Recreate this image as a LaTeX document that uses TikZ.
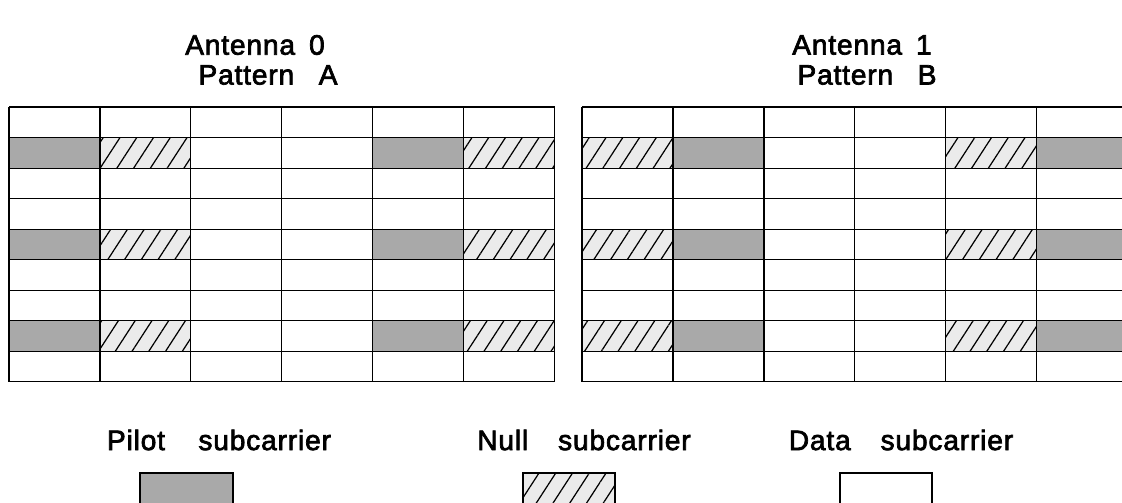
\documentclass[tikz,border=0pt]{standalone}
\usepackage{fontspec}
\setmainfont{Liberation Sans}
\newfontfamily\labelfont[FakeBold=2.5,LetterSpace=3]{Liberation Sans}
\usetikzlibrary{patterns.meta}
\definecolor{pilotgray}{RGB}{169,169,169}
\definecolor{nullgray}{RGB}{235,235,235}
\newcommand{\colw}{1.82}
\newcommand{\rowh}{0.611}

\begin{document}
\begin{tikzpicture}[x=0.02cm,y=-0.02cm,
		pilotcell/.style={fill=pilotgray},
		nullcell/.style={fill=nullgray,postaction={pattern={Lines[angle=57,distance=8pt,line width=0.7pt]}}},
		gridline/.style={draw=black,line width=0.6pt},
		title/.style={font=\labelfont\fontsize{16}{19}\selectfont},
	]
		\useasboundingbox (0,0) rectangle (1122,503);
		%titres
		\node[title] (ant0) at (255,45) {Antenna\hspace{8pt}0};
		\node[title] (pat0) at (268,75) {Pattern\hspace{14pt}A};
		\node[title] (ant1) at (862,45) {Antenna\hspace{8pt}1};
		\node[title] (pat1) at (867,75) {Pattern\hspace{14pt}B};
		%grille antenne 0
		\begin{scope}[shift={(9,107)},x=\colw cm,y=-\rowh cm]
			\foreach \r in {1,4,7} {
				\fill[pilotcell] (0,\r) rectangle (1,\r+1);
				\fill[nullcell] (1,\r) rectangle (2,\r+1);
				\fill[pilotcell] (4,\r) rectangle (5,\r+1);
				\fill[nullcell] (5,\r) rectangle (6,\r+1);
			}
			\foreach \r in {0,...,9} \draw[gridline] (0,\r) -- (6,\r);
			\foreach \c in {0,...,6} \draw[gridline] (\c,0) -- (\c,9);
		\end{scope}
		%grille antenne 1
		\begin{scope}[shift={(582,107)},x=\colw cm,y=-\rowh cm]
			\foreach \r in {1,4,7} {
				\fill[nullcell] (0,\r) rectangle (1,\r+1);
				\fill[pilotcell] (1,\r) rectangle (2,\r+1);
				\fill[nullcell] (4,\r) rectangle (5,\r+1);
				\fill[pilotcell] (5,\r) rectangle (6,\r+1);
			}
			\foreach \r in {0,...,9} \draw[gridline] (0,\r) -- (6,\r);
			\foreach \c in {0,...,5} \draw[gridline] (\c,0) -- (\c,9);
		\end{scope}
		%legende
		\node[title] (lgpilot) at (219,440) {Pilot\hspace{19pt}subcarrier};
		\node[title] (lgnull) at (584,440) {Null\hspace{17pt}subcarrier};
		\node[title] (lgdata) at (901,440) {Data\hspace{17pt}subcarrier};
		\draw[gridline,pilotcell] (140,473) rectangle (233,510);
		\draw[gridline,nullcell] (523,473) rectangle (615,510);
		\draw[gridline] (840,473) rectangle (932,510);
	\end{tikzpicture}
\end{document}
